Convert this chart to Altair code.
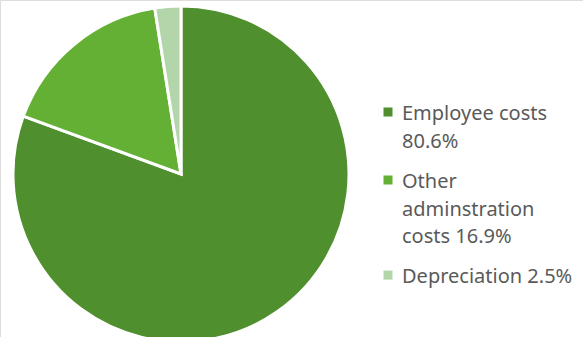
import altair as alt
import pandas as pd

categories = ["Employee costs|80.6%", "Other|adminstration|costs 16.9%", "Depreciation 2.5%"]
values = [80.6, 16.9, 2.5]
colors = ["#4f8f2e", "#64b035", "#b2d6aa"]

df = pd.DataFrame({"cat": categories, "val": values, "order": [0, 1, 2]})

chart = alt.Chart(df).mark_arc(outerRadius=168, stroke="white", strokeWidth=3).encode(
    theta=alt.Theta("val:Q", stack=True),
    order=alt.Order("order:Q"),
    color=alt.Color(
        "cat:N",
        sort=categories,
        scale=alt.Scale(domain=categories, range=colors),
        legend=alt.Legend(
            title=None,
            orient="none",
            legendX=378,
            legendY=90,
            labelExpr="split(datum.label, '|')",
            labelFont="Noto Sans",
            labelFontSize=20,
            labelColor="#5a5a5a",
            labelLimit=300,
            symbolType="M-1,0.8H1V2.8H-1Z",
            symbolSize=81,
            symbolStrokeWidth=0,
            clipHeight=28,
            rowPadding=6,
            labelOffset=4,
            labelBaseline="top",
        ),
    ),
    x=alt.value(181),
    y=alt.value(174),
).properties(
    width=583, height=337, autosize=alt.AutoSizeParams(type="none"), padding=0
).configure_view(stroke=None).configure(style={"guide-label": {"lineHeight": 27.5}})

chart.save("out.html", embed_options={"renderer": "svg", "actions": False})
